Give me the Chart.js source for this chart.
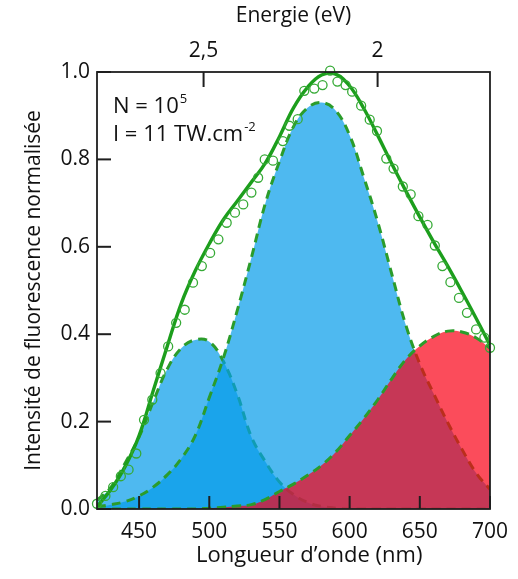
<!DOCTYPE html>
<html>
<head>
<meta charset="utf-8">
<script src="https://cdn.jsdelivr.net/npm/chart.js@4.4.1/dist/chart.umd.min.js"></script>
<style>
  html, body { margin: 0; padding: 0; background: #fff; }
  canvas { display: block; }
</style>
</head>
<body>
<canvas id="chart" width="518" height="579"></canvas>
<script>
// Wavelength grid (nm) shared by the fitted curve and its three bands
const WAVELENGTH_NM = [420, 430, 440, 450, 460, 470, 480, 490, 500, 510, 520, 530, 540, 550, 560,
  570, 580, 590, 600, 610, 620, 630, 640, 650, 660, 670, 680, 690, 700];

// Total fit (solid green)
const FIT_TOTAL = [0.005, 0.045, 0.097, 0.168, 0.270, 0.372, 0.470, 0.545, 0.607, 0.662, 0.705, 0.748,
  0.792, 0.852, 0.918, 0.965, 0.993, 0.995, 0.968, 0.917, 0.855, 0.790, 0.728, 0.668, 0.610, 0.555,
  0.497, 0.437, 0.375];

// Gaussian components (dashed outlines, filled)
const BAND_1 = [0.020, 0.050, 0.105, 0.165, 0.245, 0.320, 0.368, 0.387, 0.383, 0.338, 0.262, 0.165,
  0.108, 0.062, 0.033, 0.015, 0.006, 0.002, 0, 0, 0, 0, 0, 0, 0, 0, 0, 0, 0];
const BAND_2 = [0.005, 0.010, 0.017, 0.030, 0.050, 0.078, 0.115, 0.168, 0.255, 0.345, 0.455, 0.575,
  0.700, 0.795, 0.875, 0.918, 0.930, 0.912, 0.855, 0.760, 0.657, 0.538, 0.421, 0.332, 0.263, 0.197,
  0.137, 0.083, 0.045];
const BAND_3 = [0, 0, 0, 0, 0, 0, 0, 0, 0.002, 0.004, 0.007, 0.010, 0.022, 0.040, 0.057, 0.077,
  0.100, 0.130, 0.168, 0.207, 0.250, 0.298, 0.342, 0.373, 0.395, 0.407, 0.405, 0.392, 0.368];

// Measured spectrum (open circles)
const MEASURED_NM = [420, 426, 431.5, 437, 442.5, 448, 453.5, 459.4, 465.3, 470.7, 476.4, 482.5,
  488.4, 494.7, 500.6, 506.5, 512.4, 518.3, 524.2, 530, 534.8, 539.5, 545.4, 552.4, 557.1, 563,
  567.7, 574.8, 580.7, 586.1, 591.3, 597.1, 601.8, 608.2, 614.3, 619.5, 626.1, 631.3, 637.9, 643.5,
  649, 655.5, 660.7, 666.1, 671.8, 677.9, 683.6, 690.1, 696, 700];
const MEASURED_INTENSITY = [0.012, 0.030, 0.050, 0.075, 0.090, 0.127, 0.204, 0.250, 0.311, 0.372,
  0.426, 0.456, 0.518, 0.556, 0.586, 0.617, 0.655, 0.678, 0.697, 0.724, 0.758, 0.800, 0.797, 0.842,
  0.877, 0.892, 0.957, 0.962, 0.970, 1.003, 0.978, 0.970, 0.955, 0.923, 0.891, 0.865, 0.802, 0.779,
  0.738, 0.720, 0.670, 0.650, 0.603, 0.556, 0.519, 0.483, 0.449, 0.411, 0.392, 0.369];

// Axis ticks
const X_TICKS_NM = [450, 500, 550, 600, 650, 700];
const Y_TICKS = [0, 0.2, 0.4, 0.6, 0.8, 1.0];
const ENERGY_TICKS_EV = [2.5, 2];
const ENERGY_TICK_LABELS = ['2,5', '2'];
const HC_EV_NM = 1239.84;

// Texts
const X_TITLE = 'Longueur d\u2019onde (nm)';
const X2_TITLE = 'Energie (eV)';
const Y_TITLE = 'Intensit\u00e9 de fluorescence normalis\u00e9e';
const NOTE_LINES = [['N = 10', '5'], ['I = 11 TW.cm', '-2']];

const FONT = '"Open Sans", "Noto Sans", sans-serif';
const GREEN_LINE = '#1c9e1c';
const GREEN_DASH = '#2b9c2b';
const GREEN_MARK = '#36aa36';
const BLUE_FILL = 'rgba(6, 156, 234, 0.71)';
const RED_FILL = 'rgba(250, 0, 21, 0.70)';

const toXY = (xs, ys) => xs.map((x, i) => ({ x, y: ys[i] }));

function band(values, fillColor, order) {
  return {
    data: toXY(WAVELENGTH_NM, values),
    borderColor: GREEN_DASH,
    borderWidth: 3,
    borderDash: [9, 6],
    backgroundColor: fillColor,
    fill: 'origin',
    tension: 0.4,
    pointRadius: 0,
    order
  };
}

// Inward tick marks, plot frame, annotation and bottom axis caption
const decorations = {
  id: 'decorations',
  afterDraw(chart) {
    const ctx = chart.ctx;
    const a = chart.chartArea;
    const sx = chart.scales.x, sy = chart.scales.y;

    ctx.save();
    ctx.strokeStyle = '#1e1e1e';
    ctx.lineWidth = 2;
    ctx.setLineDash([]);
    const seg = (x1, y1, x2, y2) => {
      ctx.beginPath(); ctx.moveTo(x1, y1); ctx.lineTo(x2, y2); ctx.stroke();
    };
    X_TICKS_NM.forEach(v => {
      const p = sx.getPixelForValue(v);
      seg(p, a.bottom, p, a.bottom - 13);
    });
    ENERGY_TICKS_EV.forEach(e => {
      const p = sx.getPixelForValue(HC_EV_NM / e);
      seg(p, a.top, p, a.top + 15);
    });
    Y_TICKS.forEach(v => {
      const p = sy.getPixelForValue(v);
      seg(a.left, p, a.left + 14, p);
    });
    ctx.lineWidth = 1.8;
    ctx.strokeRect(a.left, a.top, a.right - a.left, a.bottom - a.top);

    ctx.fillStyle = '#111';
    ctx.textBaseline = 'alphabetic';
    ctx.textAlign = 'left';
    const x0 = a.left + 16;
    const baselines = [a.top + 41, a.top + 69];
    NOTE_LINES.forEach(([main, sup], i) => {
      ctx.font = '22px ' + FONT;
      ctx.fillText(main, x0, baselines[i]);
      const w = ctx.measureText(main).width;
      ctx.font = '13px ' + FONT;
      ctx.fillText(sup, x0 + w + 1, baselines[i] - 10);
    });
    ctx.font = '22px ' + FONT;
    ctx.textAlign = 'center';
    ctx.fillText(X_TITLE, a.left + (a.right - a.left) * 0.54, a.bottom + 53);
    ctx.restore();
  }
};

function draw() {
  Chart.defaults.font.family = FONT;
  Chart.defaults.font.size = 21;
  Chart.defaults.color = '#111';

  new Chart(document.getElementById('chart'), {
    type: 'line',
    data: {
      datasets: [
        {
          data: toXY(MEASURED_NM, MEASURED_INTENSITY),
          showLine: false,
          pointStyle: 'circle',
          pointRadius: 4.5,
          pointBorderWidth: 1.3,
          pointBorderColor: GREEN_MARK,
          pointBackgroundColor: 'rgba(0,0,0,0)',
          clip: false,
          order: 0
        },
        {
          data: toXY(WAVELENGTH_NM, FIT_TOTAL),
          borderColor: GREEN_LINE,
          borderWidth: 3.4,
          tension: 0.4,
          pointRadius: 0,
          fill: false,
          order: 1
        },
        band(BAND_3, RED_FILL, 2),
        band(BAND_2, BLUE_FILL, 3),
        band(BAND_1, BLUE_FILL, 4)
      ]
    },
    options: {
      responsive: false,
      animation: false,
      events: [],
      layout: { padding: { left: 0, right: 23, top: 0, bottom: 0 } },
      plugins: { legend: { display: false }, tooltip: { enabled: false } },
      scales: {
        x: {
          type: 'linear',
          position: 'bottom',
          min: 420, max: 700,
          grid: { display: false, drawTicks: false },
          border: { display: false },
          afterBuildTicks: s => { s.ticks = X_TICKS_NM.map(v => ({ value: v })); },
          afterFit: s => { s.height = 70; },
          ticks: { autoSkip: false, maxRotation: 0, padding: 10, callback: v => String(v) }
        },
        x2: {
          type: 'linear',
          position: 'top',
          min: 420, max: 700,
          grid: { display: false, drawTicks: false },
          border: { display: false },
          afterBuildTicks: s => { s.ticks = ENERGY_TICKS_EV.map(e => ({ value: HC_EV_NM / e })); },
          afterFit: s => { s.height = 72; },
          ticks: { autoSkip: false, maxRotation: 0, padding: 8,
                   callback: (v, i) => ENERGY_TICK_LABELS[i] },
          title: { display: true, text: X2_TITLE, padding: { top: 3, bottom: 0 } }
        },
        y: {
          type: 'linear',
          min: 0, max: 1,
          grid: { display: false, drawTicks: false },
          border: { display: false },
          afterBuildTicks: s => { s.ticks = Y_TICKS.map(v => ({ value: v })); },
          afterFit: s => { s.width = 97; },
          ticks: { padding: 7, callback: v => v.toFixed(1) },
          title: { display: true, text: Y_TITLE, padding: { top: 21, bottom: 0 } }
        }
      }
    },
    plugins: [decorations]
  });
}

if (document.fonts && document.fonts.load) {
  Promise.all([document.fonts.load('21px "Open Sans"'), document.fonts.load('13px "Open Sans"')])
    .then(draw, draw);
} else {
  draw();
}
</script>
</body>
</html>
